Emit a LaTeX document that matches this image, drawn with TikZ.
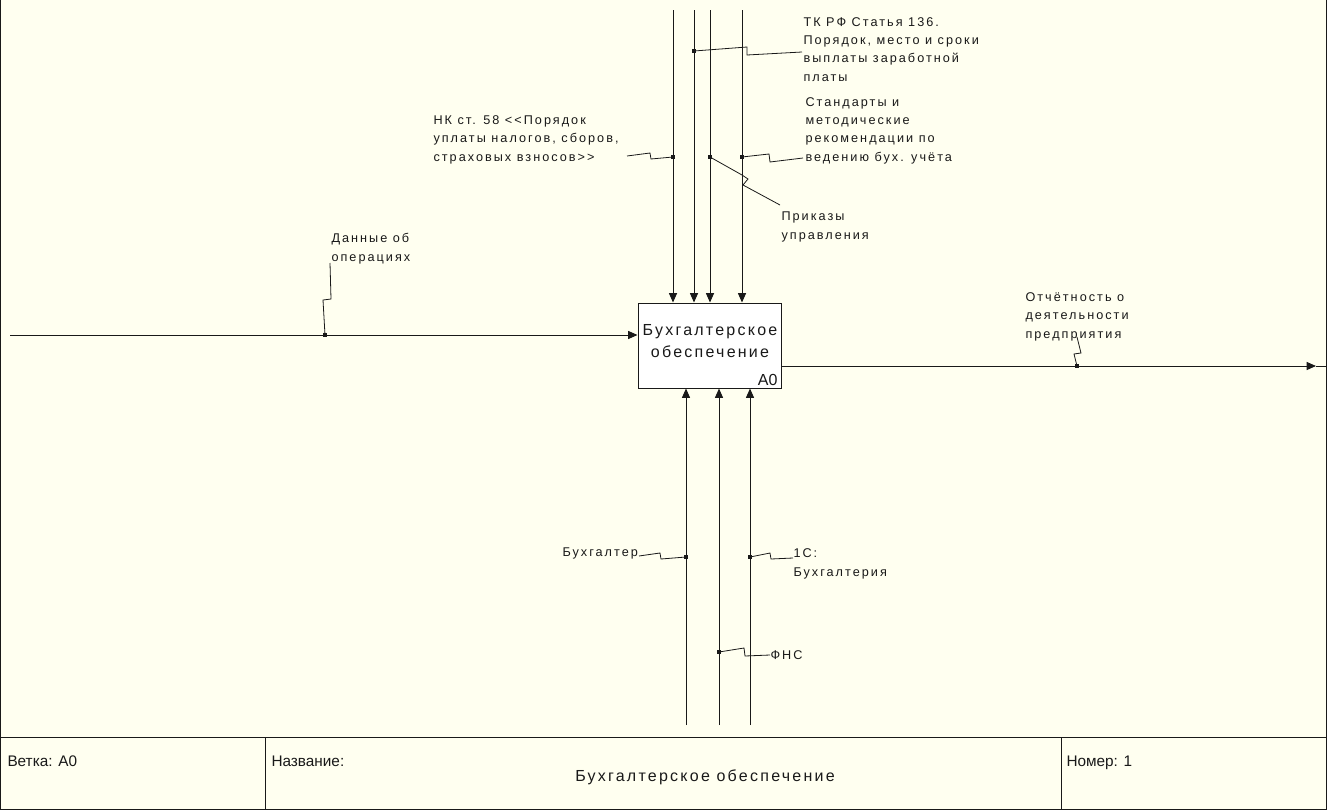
\documentclass[tikz,border=0pt]{standalone}
\usepackage{fontspec}
\setmainfont{Liberation Sans}
\newfontfamily\lblfont[LetterSpace=16]{Liberation Sans}
\newfontfamily\bxfont[LetterSpace=14]{Liberation Sans}
\usetikzlibrary{arrows.meta}
\definecolor{bg}{RGB}{255,255,240}
\definecolor{ink}{RGB}{25,25,25}
\begin{document}
\begin{tikzpicture}[x=0.75pt,y=-0.75pt,line width=0.75pt,draw=ink,
  arr/.style={-{Triangle[length=7pt,width=6pt]}},
  lbl/.style={font=\lblfont\fontsize{9.5}{13.7}\selectfont,text=ink,align=left,inner sep=0pt,anchor=base west},
  boxtxt/.style={font=\bxfont\fontsize{12}{16.5}\selectfont,text=ink},
  foot/.style={font=\fontsize{11.5}{12}\selectfont,text=ink,inner sep=0pt,anchor=base west},
  sq/.style={line width=0.6pt},
  dot/.style={fill=ink,draw=none,minimum size=2.6pt,inner sep=0pt,outer sep=0pt},
]
\fill[bg] (0,0) rectangle (1327,810);
\useasboundingbox (0,0) rectangle (1327,810);
% frame
\draw (0.5,0) -- (0.5,809) -- (1326,809) -- (1326,0);
\draw (0.5,737) -- (1326,737);
\draw (265,737) -- (265,809);
\draw (1061,737) -- (1061,809);
\node[foot] (fv) at (7,766) {Ветка: A0};
\node[foot] (fn) at (271,766) {Название:};
\node[foot] (fnum) at (1066,766) {Номер: 1};
\node[boxtxt,anchor=base,inner sep=0pt] (ft) at (705,781) {Бухгалтерское обеспечение};

% main box
\node[draw,fill=white,minimum width=107.25pt,minimum height=63.75pt,inner sep=0pt] (box) at (709.5,345.5) {};
\node[boxtxt,align=center,anchor=base,inner sep=0pt] (bt) at (710,357) {Бухгалтерское\\обеспечение};
\node[font=\fontsize{12}{12}\selectfont,text=ink,anchor=base east,inner sep=0pt] (bid) at (778,385) {A0};

% control arrows (top)
\coordinate (c1) at (673,10);
\coordinate (c2) at (694,10);
\coordinate (c3) at (710,10);
\coordinate (c4) at (742,10);
\foreach \c in {c1,c2,c3,c4} \draw[arr] (\c) -- (\c |- box.north);
% mechanism arrows (bottom)
\coordinate (m1) at (686,725);
\coordinate (m2) at (719,725);
\coordinate (m3) at (750,725);
\foreach \m in {m1,m2,m3} \draw[arr] (\m) -- (\m |- box.south);
% input
\coordinate (in) at (10,335);
\draw[arr] (in) -- (in -| box.west);
% output
\coordinate (outs) at (781,366);
\coordinate (oute) at (1316,366);
\coordinate (outb) at (1326,366);
\draw[arr] (outs) -- (oute);
\draw (oute) -- (outb);

% labels (anchor = baseline of last line)
\node[lbl] (ltk) at (803,81) {ТК РФ Статья 136.\\Порядок, место и сроки\\выплаты заработной\\платы};
\node[lbl] (lst) at (805,161) {Стандарты и\\методические\\рекомендации по\\ведению бух. учёта};
\node[lbl] (lnk) at (433,161) {НК ст. 58 <<Порядок\\уплаты налогов, сборов,\\страховых взносов>>};
\node[lbl] (lpr) at (781,239) {Приказы\\управления};
\node[lbl] (lda) at (331,261) {Данные об\\операциях};
\node[lbl] (lot) at (1025,338) {Отчётность о\\деятельности\\предприятия};
\node[lbl] (lbu) at (562,556) {Бухгалтер};
\node[lbl] (l1c) at (793,576) {1С:\\Бухгалтерия};
\node[lbl] (lfn) at (770,659) {ФНС};

% squiggles
\coordinate (dnk) at (673,157);
\coordinate (dtk) at (694,51);
\coordinate (dpr) at (710,157);
\coordinate (dst) at (742,157);
\coordinate (dda) at (325,335);
\coordinate (dot) at (1077,366);
\coordinate (dbu) at (686,557);
\coordinate (d1c) at (750,557);
\coordinate (dfn) at (719,652);
\draw[sq] (dnk) -- (651,159) -- (650,153) -- (627,156);
\draw[sq] (dtk) -- (747,47) -- (747,55) -- (802,52);
\draw[sq] (dst) -- (769,154) -- (770,162) -- (803,158);
\draw[sq] (dpr) -- (742,175) -- (748,179) -- (743,185) -- (780,205);
\draw[sq] (dda) -- (323,300) -- (331,299) -- (330,263);
\draw[sq] (dot) -- (1074,354) -- (1081,353) -- (1077,337);
\draw[sq] (dbu) -- (661,559) -- (660,553) -- (639,556);
\draw[sq] (d1c) -- (770,553) -- (771,559) -- (793,558);
\draw[sq] (dfn) -- (744,648) -- (745,656) -- (770,655);
\foreach \d in {dnk,dtk,dpr,dst,dda,dot,dbu,d1c,dfn} \node[dot] at (\d) {};
\end{tikzpicture}
\end{document}
